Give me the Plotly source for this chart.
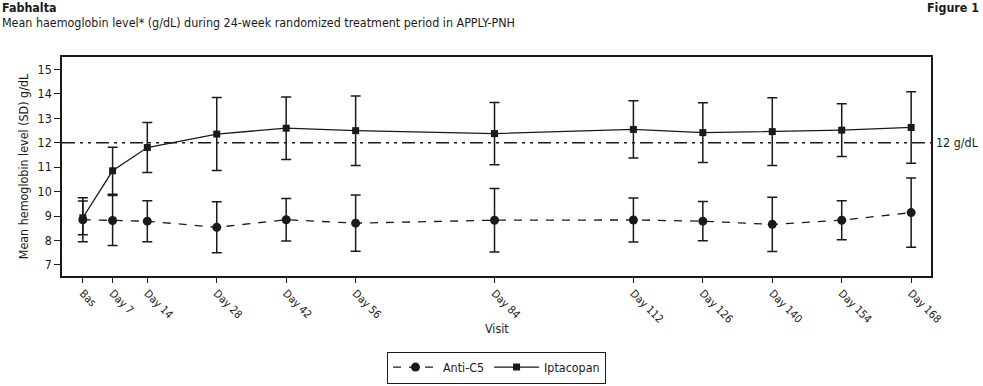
import plotly.graph_objects as go

# Visit positions (study day) and labels
visit_days = [1, 7, 14, 28, 42, 56, 84, 112, 126, 140, 154, 168]
visit_labels = ["Bas", "Day 7", "Day 14", "Day 28", "Day 42", "Day 56", "Day 84",
                "Day 112", "Day 126", "Day 140", "Day 154", "Day 168"]

# Iptacopan mean and SD (g/dL)
ipt_mean = [8.93, 10.85, 11.80, 12.35, 12.59, 12.49, 12.37, 12.54, 12.41, 12.45, 12.51, 12.62]
ipt_sd = [0.69, 0.96, 1.02, 1.49, 1.28, 1.42, 1.27, 1.17, 1.22, 1.38, 1.08, 1.46]

# Anti-C5 mean and SD (g/dL)
c5_mean = [8.85, 8.82, 8.79, 8.54, 8.85, 8.71, 8.83, 8.84, 8.79, 8.66, 8.83, 9.14]
c5_sd = [0.90, 1.02, 0.84, 1.04, 0.87, 1.15, 1.30, 0.90, 0.80, 1.11, 0.80, 1.41]

threshold = 12
y_ticks = [7, 8, 9, 10, 11, 12, 13, 14, 15]

FONT = "Liberation Sans Narrow, Arial Narrow, DejaVu Sans Condensed, sans-serif"
INK = "#1a1a1a"
FS = 12.4

fig = go.Figure()

fig.add_trace(go.Scatter(
    x=visit_days, y=c5_mean, name="Anti-C5", mode="lines+markers",
    line=dict(color=INK, width=1.3, dash="8px,8px"),
    marker=dict(symbol="circle", size=9, color=INK),
    error_y=dict(type="data", array=c5_sd, visible=True, color=INK, thickness=1.5, width=5),
))
fig.add_trace(go.Scatter(
    x=visit_days, y=ipt_mean, name="Iptacopan", mode="lines+markers",
    line=dict(color=INK, width=1.3),
    marker=dict(symbol="square", size=7, color=INK),
    error_y=dict(type="data", array=ipt_sd, visible=True, color=INK, thickness=1.5, width=5),
))

fig.add_hline(y=threshold, line=dict(color=INK, width=1.5, dash="13px,5px,3px,5px,3px,5px"))

fig.add_annotation(xref="paper", yref="y", x=1.004, y=threshold, text="12 g/dL",
                   showarrow=False, xanchor="left", yanchor="middle",
                   font=dict(family=FONT, size=FS, color=INK))

fig.add_annotation(xref="paper", yref="paper", x=-0.0713, y=1.228, text="<b>Fabhalta</b>",
                   showarrow=False, xanchor="left", yanchor="middle",
                   font=dict(family=FONT, size=FS, color=INK))
fig.add_annotation(xref="paper", yref="paper", x=-0.0713, y=1.158,
                   text="Mean haemoglobin level* (g/dL) during 24-week randomized treatment period in APPLY-PNH",
                   showarrow=False, xanchor="left", yanchor="middle",
                   font=dict(family=FONT, size=FS, color=INK))
fig.add_annotation(xref="paper", yref="paper", x=1.0575, y=1.228, text="<b>Figure 1</b>",
                   showarrow=False, xanchor="right", yanchor="middle",
                   font=dict(family=FONT, size=FS, color=INK))

# x-axis title placed as annotation so it sits where the reference has it
fig.add_annotation(xref="paper", yref="paper", x=0.5, y=-0.24, text="Visit",
                   showarrow=False, xanchor="center", yanchor="middle",
                   font=dict(family=FONT, size=FS, color=INK))

fig.update_xaxes(
    range=[-3.2, 172], tickmode="array", tickvals=visit_days, ticktext=visit_labels,
    tickangle=45, ticks="outside", ticklen=5, tickcolor=INK, tickwidth=1.3,
    showline=True, linecolor=INK, linewidth=1.5, mirror=True, showgrid=False, zeroline=False,
    tickfont=dict(family=FONT, size=11, color=INK), automargin=False,
)
fig.update_yaxes(
    range=[6.55, 15.5], tickmode="array", tickvals=y_ticks,
    ticks="outside", ticklen=6, tickcolor=INK, tickwidth=1.3,
    showline=True, linecolor=INK, linewidth=1.5, mirror=True, showgrid=False, zeroline=False,
    tickfont=dict(family=FONT, size=FS, color=INK), automargin=False,
    title=dict(text="Mean hemoglobin level (SD) g/dL", font=dict(family=FONT, size=FS, color=INK), standoff=6),
)

fig.update_layout(
    width=983, height=386,
    margin=dict(l=62, r=52, t=57, b=110, autoexpand=False),
    paper_bgcolor="white", plot_bgcolor="white",
    showlegend=True,
    legend=dict(orientation="h", x=0.5, xanchor="center", y=-0.345, yanchor="top",
                bordercolor=INK, borderwidth=1, itemwidth=45,
                font=dict(family=FONT, size=FS, color=INK)),
    font=dict(family=FONT, color=INK),
)

fig.write_html("out.html", config={"displayModeBar": False},
               post_script="document.body.style.margin='0';document.body.style.overflow='hidden';")
